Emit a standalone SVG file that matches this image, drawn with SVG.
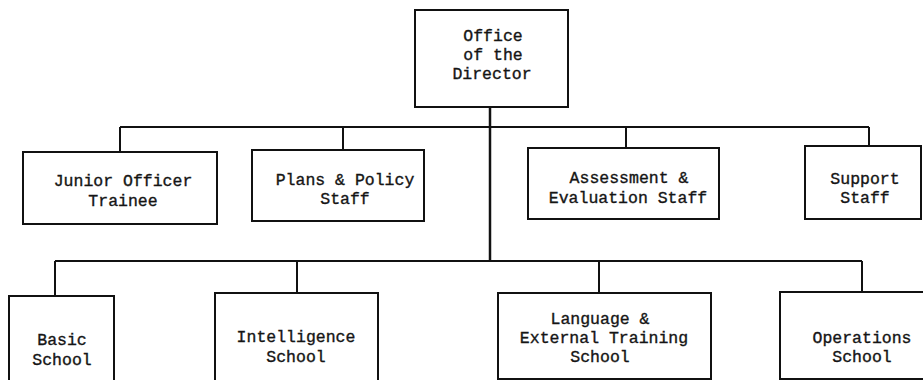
<svg xmlns="http://www.w3.org/2000/svg" width="923" height="380" viewBox="0 0 923 380">
<style>
.box{fill:#fff;stroke:#111;stroke-width:2}
.ln{fill:none;stroke:#111;stroke-width:2}
.main{fill:none;stroke:#111;stroke-width:2.5}
text{font-family:"Liberation Mono","DejaVu Sans Mono",monospace;font-size:16.5px;fill:#151515;stroke:#151515;stroke-width:0.35;text-anchor:middle}
</style>
<rect width="923" height="380" fill="#fff"/>
<g id="connectors">
<path class="main" d="M490 107V261"/>
<path class="ln" d="M120 127H869M120 127V152M343 127V150M626 127V148M869 127V146"/>
<path class="ln" d="M55 261H862M55 261V296M297 261V293M599 261V293M862 261V292"/>
</g>
<g id="director">
<rect class="box" x="415" y="10" width="153" height="97"/>
<text x="493" y="41">Office</text>
<text x="493" y="60">of the</text>
<text x="492" y="79">Director</text>
</g>
<g id="junior-officer-trainee">
<rect class="box" x="23" y="152" width="194" height="72"/>
<text x="123" y="186">Junior Officer</text>
<text x="123" y="206">Trainee</text>
</g>
<g id="plans-policy-staff">
<rect class="box" x="252" y="150" width="172" height="71"/>
<text x="345" y="185">Plans &amp; Policy</text>
<text x="345" y="204">Staff</text>
</g>
<g id="assessment-evaluation-staff">
<rect class="box" x="528" y="148" width="191" height="71"/>
<text x="629" y="183">Assessment &amp;</text>
<text x="628" y="203">Evaluation Staff</text>
</g>
<g id="support-staff">
<rect class="box" x="805" y="146" width="116" height="73"/>
<text x="865" y="184">Support</text>
<text x="865" y="203">Staff</text>
</g>
<g id="basic-school">
<rect class="box" x="9" y="296" width="105" height="90"/>
<text x="62" y="345">Basic</text>
<text x="62" y="365">School</text>
</g>
<g id="intelligence-school">
<rect class="box" x="215" y="293" width="163" height="93"/>
<text x="296" y="342">Intelligence</text>
<text x="296" y="362">School</text>
</g>
<g id="language-external-training-school">
<rect class="box" x="498" y="293" width="213" height="86"/>
<text x="600" y="324">Language &amp;</text>
<text x="604" y="343">External Training</text>
<text x="600" y="362">School</text>
</g>
<g id="operations-school">
<rect class="box" x="780" y="292" width="150" height="87"/>
<text x="862" y="343">Operations</text>
<text x="862" y="362">School</text>
</g>
</svg>
